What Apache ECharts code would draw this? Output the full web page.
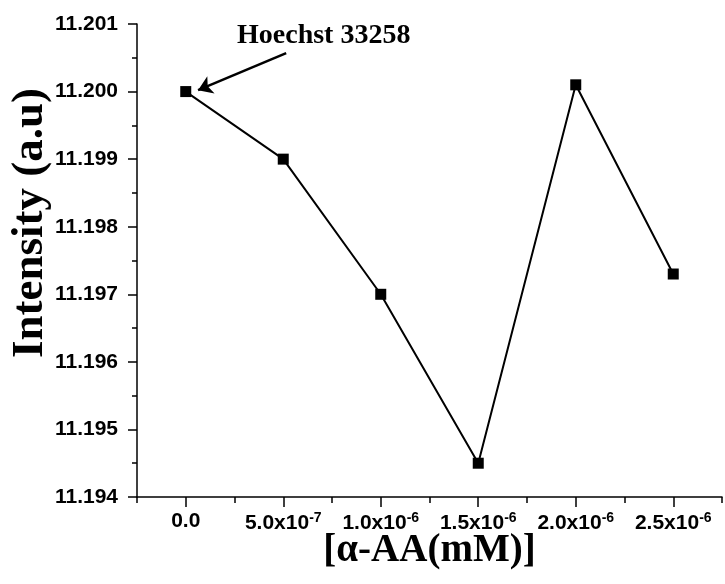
<!DOCTYPE html>
<html>
<head>
<meta charset="utf-8">
<script src="https://cdn.jsdelivr.net/npm/echarts@6/dist/echarts.min.js"></script>
<style>html,body{margin:0;padding:0;background:#fff;}#c{width:725px;height:584px;}</style>
</head>
<body>
<div id="c"></div>
<script>
// Data
const concentration = [0, 5e-7, 1e-6, 1.5e-6, 2e-6, 2.5e-6];
const intensity = [11.2000, 11.1990, 11.1970, 11.1945, 11.2001, 11.1973];
// Tick labels
const xTickBase = ['0.0', '5.0x10', '1.0x10', '1.5x10', '2.0x10', '2.5x10'];
const xTickExp = ['', '-7', '-6', '-6', '-6', '-6'];
const xStep = 2.5e-7;
// Annotation
const annotationText = 'Hoechst 33258';
const arrowFrom = [5.15e-7, 11.20057];
const arrowTo = [0.63e-7, 11.20002];

const chart = echarts.init(document.getElementById('c'));
const tickFont = '"Liberation Sans", Arial, sans-serif';
const serif = '"Liberation Serif", "Times New Roman", serif';

chart.setOption({
  animation: false,
  backgroundColor: '#fff',
  grid: { left: 137, top: 24, right: 1, bottom: 87, containLabel: false },
  xAxis: [
    {
      type: 'value', min: -2.5e-7, max: 2.75e-6, interval: 5e-7,
      axisLine: { show: true, onZero: false, lineStyle: { color: '#000', width: 1.5 } },
      axisTick: { show: true, inside: false, length: 6, lineStyle: { color: '#000', width: 1.5 } },
      minorTick: { show: true, splitNumber: 2, length: 10, lineStyle: { color: '#000', width: 1.5 } },
      axisLabel: { show: false },
      splitLine: { show: false },
      name: '[α-AA(mM)]', nameLocation: 'middle', nameGap: 34,
      nameTextStyle: { fontFamily: serif, fontWeight: 'bold', fontSize: 39, color: '#000' }
    },
    {
      type: 'value', min: -2.5e-7, max: 2.75e-6, interval: xStep, position: 'bottom',
      axisLine: { show: false, onZero: false }, axisTick: { show: false }, splitLine: { show: false },
      axisLabel: {
        show: true, margin: 14, showMinLabel: true, showMaxLabel: true,
        formatter: function (v) {
          const k = Math.round(v / xStep);
          if (k < 0 || k % 2 !== 0) return '';
          const i = k / 2;
          if (i >= xTickBase.length) return '';
          return xTickExp[i] ? '{b|' + xTickBase[i] + '}{s|' + xTickExp[i] + '}' : '{b|' + xTickBase[i] + '}';
        },
        rich: {
          b: { fontFamily: tickFont, fontWeight: 'bold', fontSize: 21, color: '#000' },
          s: { fontFamily: tickFont, fontWeight: 'bold', fontSize: 14, color: '#000', padding: [0, 0, 11, 0] }
        }
      }
    }
  ],
  yAxis: {
    type: 'value', min: 11.194, max: 11.201, interval: 0.001,
    axisLine: { show: true, onZero: false, lineStyle: { color: '#000', width: 1.5 } },
    axisTick: { show: true, inside: false, length: 9, lineStyle: { color: '#000', width: 1.5 } },
    minorTick: { show: true, splitNumber: 2, length: 5, lineStyle: { color: '#000', width: 1.5 } },
    splitLine: { show: false },
    axisLabel: {
      margin: 19, fontFamily: tickFont, fontWeight: 'bold', fontSize: 21, color: '#000',
      formatter: function (v) { return v.toFixed(3); }
    }
  },
  graphic: [
    {
      type: 'text', left: 237, top: 22,
      style: { text: annotationText, font: 'bold 28px ' + serif, fill: '#000' }
    },
    {
      type: 'text', x: 30, y: 223, rotation: Math.PI / 2,
      style: { text: 'Intensity (a.u)', font: 'bold 45px ' + serif, fill: '#000', textAlign: 'center', textVerticalAlign: 'middle' }
    }
  ],
  series: [{
    type: 'line',
    xAxisIndex: 0,
    data: concentration.map((x, i) => [x, intensity[i]]),
    symbol: 'rect', symbolSize: 11, showSymbol: true,
    lineStyle: { color: '#000', width: 2 },
    itemStyle: { color: '#000' },
    markLine: {
      silent: true, animation: false,
      symbol: ['none', 'arrow'], symbolSize: 14,
      lineStyle: { color: '#000', width: 2.5, type: 'solid' },
      label: { show: false },
      data: [[{ coord: arrowFrom }, { coord: arrowTo }]]
    }
  }]
});
</script>
</body>
</html>
